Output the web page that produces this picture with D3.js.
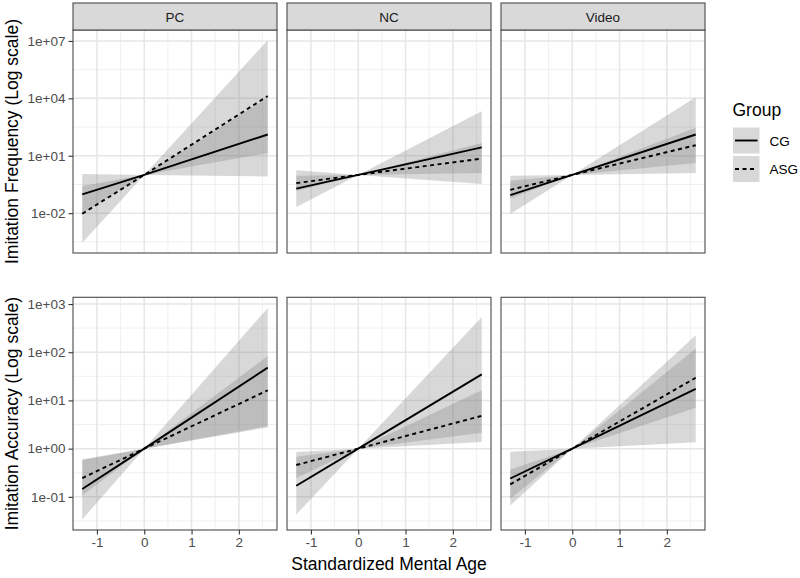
<!DOCTYPE html>
<html>
<head>
<meta charset="utf-8">
<script src="https://cdn.jsdelivr.net/npm/d3@7"></script>
<style>
  html, body { margin: 0; padding: 0; background: #fff; }
  svg { display: block; }
  text { font-family: "Liberation Sans", Arial, Helvetica, sans-serif; }
</style>
</head>
<body>
<svg id="chart" width="800" height="578"></svg>
<script>
// ---------------- DATA ----------------
const panels = ["PC", "NC", "Video"];
const groups = ["CG", "ASG"];
const xPoints = [-1.31, 0, 2.61];          // standardized mental age at ends and centre
const xTicks = [-1, 0, 1, 2];

// Imitation Frequency (log scale): fit, lower and upper bound at xPoints
const freqPC_CG_fit  = [0.095, 1, 129];
const freqPC_CG_lo   = [0.0095, 1, 0.83];
const freqPC_CG_hi   = [1.1, 1, 10700];
const freqPC_ASG_fit = [0.0093, 1, 13200];
const freqPC_ASG_lo  = [0.00028, 1, 14];
const freqPC_ASG_hi  = [0.26, 1, 1.1e7];

const freqNC_CG_fit  = [0.19, 1, 27.5];
const freqNC_CG_lo   = [0.021, 1, 0.33];
const freqNC_CG_hi   = [1.74, 1, 2140];
const freqNC_ASG_fit = [0.37, 1, 7.1];
const freqNC_ASG_lo  = [0.145, 1, 1.26];
const freqNC_ASG_hi  = [0.89, 1, 46.8];

const freqVideo_CG_fit  = [0.087, 1, 129];
const freqVideo_CG_lo   = [0.0091, 1, 1.26];
const freqVideo_CG_hi   = [0.89, 1, 11500];
const freqVideo_ASG_fit = [0.166, 1, 35.5];
const freqVideo_ASG_lo  = [0.059, 1, 4.17];
const freqVideo_ASG_hi  = [0.49, 1, 288];

// Imitation Accuracy (log scale)
const accPC_CG_fit  = [0.145, 1, 47.9];
const accPC_CG_lo   = [0.034, 1, 2.75];
const accPC_CG_hi   = [0.60, 1, 832];
const accPC_ASG_fit = [0.245, 1, 16.2];
const accPC_ASG_lo  = [0.107, 1, 2.95];
const accPC_ASG_hi  = [0.575, 1, 83.2];

const accNC_CG_fit  = [0.17, 1, 34.7];
const accNC_CG_lo   = [0.043, 1, 2.14];
const accNC_CG_hi   = [0.68, 1, 537];
const accNC_ASG_fit = [0.457, 1, 4.79];
const accNC_ASG_lo  = [0.245, 1, 1.38];
const accNC_ASG_hi  = [0.85, 1, 16.2];

const accVideo_CG_fit  = [0.24, 1, 17.4];
const accVideo_CG_lo   = [0.066, 1, 1.35];
const accVideo_CG_hi   = [0.86, 1, 224];
const accVideo_ASG_fit = [0.182, 1, 29.5];
const accVideo_ASG_lo  = [0.091, 1, 7.08];
const accVideo_ASG_hi  = [0.37, 1, 120];

const freqTicks = [1e-2, 1e1, 1e4, 1e7];
const freqTickLabels = ["1e-02", "1e+01", "1e+04", "1e+07"];
const accTicks = [1e-1, 1e0, 1e1, 1e2, 1e3];
const accTickLabels = ["1e-01", "1e+00", "1e+01", "1e+02", "1e+03"];

const rowTitles = ["Imitation Frequency (Log scale)", "Imitation Accuracy (Log scale)"];
const xTitle = "Standardized Mental Age";
const legendTitle = "Group";

// ---------------- build tables ----------------
const src = {
  freqPC_CG: [freqPC_CG_fit, freqPC_CG_lo, freqPC_CG_hi],
  freqPC_ASG: [freqPC_ASG_fit, freqPC_ASG_lo, freqPC_ASG_hi],
  freqNC_CG: [freqNC_CG_fit, freqNC_CG_lo, freqNC_CG_hi],
  freqNC_ASG: [freqNC_ASG_fit, freqNC_ASG_lo, freqNC_ASG_hi],
  freqVideo_CG: [freqVideo_CG_fit, freqVideo_CG_lo, freqVideo_CG_hi],
  freqVideo_ASG: [freqVideo_ASG_fit, freqVideo_ASG_lo, freqVideo_ASG_hi],
  accPC_CG: [accPC_CG_fit, accPC_CG_lo, accPC_CG_hi],
  accPC_ASG: [accPC_ASG_fit, accPC_ASG_lo, accPC_ASG_hi],
  accNC_CG: [accNC_CG_fit, accNC_CG_lo, accNC_CG_hi],
  accNC_ASG: [accNC_ASG_fit, accNC_ASG_lo, accNC_ASG_hi],
  accVideo_CG: [accVideo_CG_fit, accVideo_CG_lo, accVideo_CG_hi],
  accVideo_ASG: [accVideo_ASG_fit, accVideo_ASG_lo, accVideo_ASG_hi]
};
function series(measure, panel, group) {
  const [fit, lo, hi] = src[measure + panel + "_" + group];
  return xPoints.map((x, i) => ({ x, fit: fit[i], lo: lo[i], hi: hi[i] }));
}

// ---------------- layout ----------------
const svg = d3.select("#chart");
const panelX = [[73, 277], [287, 491], [501, 705]];
const rows = [
  { measure: "freq", top: 30, bottom: 253, ticks: freqTicks, labels: freqTickLabels, strip: true, xaxis: false },
  { measure: "acc", top: 297.3, bottom: 530, ticks: accTicks, labels: accTickLabels, strip: false, xaxis: true }
];

const allX = xPoints;
const xr = d3.extent(allX);
const xpad = (xr[1] - xr[0]) * 0.05;
const xDomain = [xr[0] - xpad, xr[1] + xpad];

const ribbonFill = "#7f7f7f";
const ribbonOpacity = 0.3;
const borderCol = "#4a4a4a";

rows.forEach((row, ri) => {
  // y domain from the data of the row (log space, 5% expansion)
  const vals = [];
  panels.forEach(p => groups.forEach(g => series(row.measure, p, g).forEach(d => {
    vals.push(Math.log10(d.lo), Math.log10(d.hi), Math.log10(d.fit));
  })));
  const yr = d3.extent(vals);
  const ypad = (yr[1] - yr[0]) * 0.05;
  const yDomain = [Math.pow(10, yr[0] - ypad), Math.pow(10, yr[1] + ypad)];

  panels.forEach((p, pi) => {
    const [x0, x1] = panelX[pi];
    const x = d3.scaleLinear().domain(xDomain).range([x0, x1]);
    const y = d3.scaleLog().domain(yDomain).range([row.bottom, row.top]);
    const g = svg.append("g");

    // background
    g.append("rect").attr("x", x0).attr("y", row.top).attr("width", x1 - x0).attr("height", row.bottom - row.top).attr("fill", "#fff");

    // minor grid (midpoints in transformed space)
    const lt = row.ticks.map(t => Math.log10(t));
    const step = lt[1] - lt[0];
    const yMinor = [];
    for (let i = -1; i < lt.length; i++) {
      const m = lt[0] + (i + 0.5) * step;
      const v = Math.pow(10, m);
      if (v > yDomain[0] && v < yDomain[1]) yMinor.push(v);
    }
    const xStep = xTicks[1] - xTicks[0];
    const xMinor = [];
    for (let i = -1; i < xTicks.length; i++) {
      const v = xTicks[0] + (i + 0.5) * xStep;
      if (v > xDomain[0] + 0.01 && v < xDomain[1]) xMinor.push(v);
    }
    g.selectAll(".ymin").data(yMinor).enter().append("line")
      .attr("x1", x0).attr("x2", x1).attr("y1", d => y(d)).attr("y2", d => y(d))
      .attr("stroke", "#ececec").attr("stroke-width", 0.8);
    g.selectAll(".xmin").data(xMinor).enter().append("line")
      .attr("y1", row.top).attr("y2", row.bottom).attr("x1", d => x(d)).attr("x2", d => x(d))
      .attr("stroke", "#ececec").attr("stroke-width", 0.8);
    // major grid
    g.selectAll(".ymaj").data(row.ticks).enter().append("line")
      .attr("x1", x0).attr("x2", x1).attr("y1", d => y(d)).attr("y2", d => y(d))
      .attr("stroke", "#e6e6e6").attr("stroke-width", 1.5);
    g.selectAll(".xmaj").data(xTicks).enter().append("line")
      .attr("y1", row.top).attr("y2", row.bottom).attr("x1", d => x(d)).attr("x2", d => x(d))
      .attr("stroke", "#e6e6e6").attr("stroke-width", 1.5);

    // ribbons
    const area = d3.area().x(d => x(d.x)).y0(d => y(d.lo)).y1(d => y(d.hi));
    groups.forEach(gr => {
      g.append("path").datum(series(row.measure, p, gr)).attr("d", area)
        .attr("fill", ribbonFill).attr("fill-opacity", ribbonOpacity).attr("stroke", "none");
    });
    // lines
    const line = d3.line().x(d => x(d.x)).y(d => y(d.fit));
    groups.forEach(gr => {
      g.append("path").datum(series(row.measure, p, gr)).attr("d", line)
        .attr("fill", "none").attr("stroke", "#000").attr("stroke-width", 1.9)
        .attr("stroke-dasharray", gr === "ASG" ? "4,3.5" : null);
    });

    // border
    g.append("rect").attr("x", x0).attr("y", row.top).attr("width", x1 - x0).attr("height", row.bottom - row.top)
      .attr("fill", "none").attr("stroke", borderCol).attr("stroke-width", 1.1);

    // strip
    if (row.strip) {
      g.append("rect").attr("x", x0).attr("y", 3).attr("width", x1 - x0).attr("height", row.top - 3)
        .attr("fill", "#d9d9d9").attr("stroke", borderCol).attr("stroke-width", 1.1);
      g.append("text").attr("x", (x0 + x1) / 2).attr("y", 21.5).attr("text-anchor", "middle")
        .attr("font-size", 13.5).attr("fill", "#1a1a1a").text(p);
    }

    // y axis (first column only)
    if (pi === 0) {
      const ya = d3.axisLeft(y).tickValues(row.ticks).tickFormat((d, i) => row.labels[i]).tickSize(4.5).tickPadding(3);
      const ag = svg.append("g").attr("transform", `translate(${x0},0)`).call(ya);
      ag.select(".domain").remove();
      ag.selectAll(".tick line").attr("stroke", "#333").attr("stroke-width", 1.1);
      ag.selectAll(".tick text").attr("font-size", 13.5).attr("fill", "#4d4d4d")
        .attr("font-family", "Liberation Sans, Arial, sans-serif");
    }
    // x axis (bottom row only)
    if (row.xaxis) {
      const xa = d3.axisBottom(x).tickValues(xTicks).tickFormat(d3.format("d")).tickSize(4.5).tickPadding(3);
      const ag = svg.append("g").attr("transform", `translate(0,${row.bottom})`).call(xa);
      ag.select(".domain").remove();
      ag.selectAll(".tick line").attr("stroke", "#333").attr("stroke-width", 1.1);
      ag.selectAll(".tick text").attr("font-size", 13.5).attr("fill", "#4d4d4d")
        .attr("font-family", "Liberation Sans, Arial, sans-serif")
        .text(d => (d < 0 ? "-" : "") + Math.abs(d));
    }
  });

  // row title
  svg.append("text").attr("transform", `translate(17.5,${(row.top + row.bottom) / 2}) rotate(-90)`)
    .attr("text-anchor", "middle").attr("font-size", 17.5).attr("fill", "#000").text(rowTitles[ri]);
});

// x title
svg.append("text").attr("x", (panelX[0][0] + panelX[2][1]) / 2).attr("y", 569.5)
  .attr("text-anchor", "middle").attr("font-size", 17.5).attr("fill", "#000").text(xTitle);

// legend
const lg = svg.append("g");
lg.append("text").attr("x", 732.5).attr("y", 116).attr("font-size", 17.5).attr("fill", "#000").text(legendTitle);
groups.forEach((gr, i) => {
  const ky = 127.5 + i * 28.5;
  lg.append("rect").attr("x", 733).attr("y", ky).attr("width", 26.5).attr("height", 26)
    .attr("fill", ribbonFill).attr("fill-opacity", ribbonOpacity);
  lg.append("line").attr("x1", 735).attr("x2", 757.5).attr("y1", ky + 13).attr("y2", ky + 13)
    .attr("stroke", "#000").attr("stroke-width", 1.9).attr("stroke-dasharray", gr === "ASG" ? "4,3.5" : null);
  lg.append("text").attr("x", 769.5).attr("y", ky + 18).attr("font-size", 13.5).attr("fill", "#000").text(gr);
});
</script>
</body>
</html>
